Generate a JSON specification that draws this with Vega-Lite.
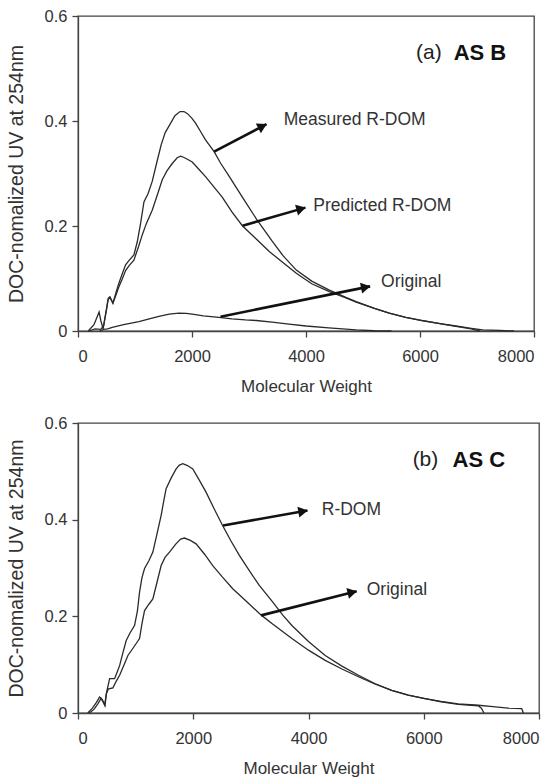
{
  "$schema": "https://vega.github.io/schema/vega-lite/v6.json",
  "padding": {"left": 5, "top": 7, "right": 0, "bottom": 2},
  "background": "white",
  "spacing": 18,
  "config": {
    "font": "Liberation Sans",
    "view": {"stroke": "#444", "strokeWidth": 1.3},
    "axis": {
      "labelFont": "Liberation Sans", "labelFontSize": 16.5, "labelColor": "#333",
      "titleFont": "Liberation Sans", "titleFontWeight": "normal", "titleColor": "#333",
      "domainColor": "#444", "domainWidth": 1.3, "tickColor": "#444", "tickWidth": 1.3, "tickSize": 6, "grid": false
    },
    "axisX": {"labelPadding": 11, "titleFontSize": 17, "titlePadding": 14},
    "axisY": {"labelPadding": 5, "titleFontSize": 19.5, "titlePadding": 18}
  },
  "datasets": {
    "topCurves": [
      {"series": "Measured R-DOM", "mw": 180, "uv": 0},
      {"series": "Measured R-DOM", "mw": 280, "uv": 0.012},
      {"series": "Measured R-DOM", "mw": 340, "uv": 0.028},
      {"series": "Measured R-DOM", "mw": 370, "uv": 0.036},
      {"series": "Measured R-DOM", "mw": 400, "uv": 0.02},
      {"series": "Measured R-DOM", "mw": 440, "uv": 0.004},
      {"series": "Measured R-DOM", "mw": 480, "uv": 0.03},
      {"series": "Measured R-DOM", "mw": 530, "uv": 0.062},
      {"series": "Measured R-DOM", "mw": 560, "uv": 0.065},
      {"series": "Measured R-DOM", "mw": 613, "uv": 0.053},
      {"series": "Measured R-DOM", "mw": 671, "uv": 0.075},
      {"series": "Measured R-DOM", "mw": 720, "uv": 0.092},
      {"series": "Measured R-DOM", "mw": 780, "uv": 0.11},
      {"series": "Measured R-DOM", "mw": 835, "uv": 0.126},
      {"series": "Measured R-DOM", "mw": 900, "uv": 0.135},
      {"series": "Measured R-DOM", "mw": 981, "uv": 0.145},
      {"series": "Measured R-DOM", "mw": 1040, "uv": 0.17},
      {"series": "Measured R-DOM", "mw": 1098, "uv": 0.205},
      {"series": "Measured R-DOM", "mw": 1157, "uv": 0.246},
      {"series": "Measured R-DOM", "mw": 1230, "uv": 0.262},
      {"series": "Measured R-DOM", "mw": 1302, "uv": 0.285},
      {"series": "Measured R-DOM", "mw": 1380, "uv": 0.32},
      {"series": "Measured R-DOM", "mw": 1460, "uv": 0.355},
      {"series": "Measured R-DOM", "mw": 1530, "uv": 0.378},
      {"series": "Measured R-DOM", "mw": 1606, "uv": 0.392},
      {"series": "Measured R-DOM", "mw": 1700, "uv": 0.41},
      {"series": "Measured R-DOM", "mw": 1790, "uv": 0.418},
      {"series": "Measured R-DOM", "mw": 1860, "uv": 0.418},
      {"series": "Measured R-DOM", "mw": 1920, "uv": 0.414},
      {"series": "Measured R-DOM", "mw": 2000, "uv": 0.405},
      {"series": "Measured R-DOM", "mw": 2062, "uv": 0.396},
      {"series": "Measured R-DOM", "mw": 2150, "uv": 0.38},
      {"series": "Measured R-DOM", "mw": 2237, "uv": 0.364},
      {"series": "Measured R-DOM", "mw": 2388, "uv": 0.3415},
      {"series": "Measured R-DOM", "mw": 2500, "uv": 0.32},
      {"series": "Measured R-DOM", "mw": 2650, "uv": 0.295},
      {"series": "Measured R-DOM", "mw": 2900, "uv": 0.252},
      {"series": "Measured R-DOM", "mw": 3150, "uv": 0.21},
      {"series": "Measured R-DOM", "mw": 3400, "uv": 0.172},
      {"series": "Measured R-DOM", "mw": 3600, "uv": 0.143},
      {"series": "Measured R-DOM", "mw": 3830, "uv": 0.116},
      {"series": "Measured R-DOM", "mw": 4100, "uv": 0.095},
      {"series": "Measured R-DOM", "mw": 4410, "uv": 0.078},
      {"series": "Measured R-DOM", "mw": 4700, "uv": 0.064},
      {"series": "Measured R-DOM", "mw": 4880, "uv": 0.056},
      {"series": "Measured R-DOM", "mw": 5200, "uv": 0.043},
      {"series": "Measured R-DOM", "mw": 5460, "uv": 0.034},
      {"series": "Measured R-DOM", "mw": 5750, "uv": 0.026},
      {"series": "Measured R-DOM", "mw": 6050, "uv": 0.0197},
      {"series": "Measured R-DOM", "mw": 6350, "uv": 0.014},
      {"series": "Measured R-DOM", "mw": 6630, "uv": 0.0095},
      {"series": "Measured R-DOM", "mw": 6900, "uv": 0.005},
      {"series": "Measured R-DOM", "mw": 7100, "uv": 0.002},
      {"series": "Measured R-DOM", "mw": 7400, "uv": 0.001},
      {"series": "Measured R-DOM", "mw": 7650, "uv": 0},
      {"series": "Predicted R-DOM", "mw": 190, "uv": 0},
      {"series": "Predicted R-DOM", "mw": 300, "uv": 0.004},
      {"series": "Predicted R-DOM", "mw": 400, "uv": 0.003},
      {"series": "Predicted R-DOM", "mw": 450, "uv": 0.01},
      {"series": "Predicted R-DOM", "mw": 500, "uv": 0.04},
      {"series": "Predicted R-DOM", "mw": 530, "uv": 0.06},
      {"series": "Predicted R-DOM", "mw": 560, "uv": 0.064},
      {"series": "Predicted R-DOM", "mw": 613, "uv": 0.053},
      {"series": "Predicted R-DOM", "mw": 671, "uv": 0.07},
      {"series": "Predicted R-DOM", "mw": 720, "uv": 0.085},
      {"series": "Predicted R-DOM", "mw": 780, "uv": 0.1},
      {"series": "Predicted R-DOM", "mw": 835, "uv": 0.115},
      {"series": "Predicted R-DOM", "mw": 900, "uv": 0.125},
      {"series": "Predicted R-DOM", "mw": 981, "uv": 0.135},
      {"series": "Predicted R-DOM", "mw": 1060, "uv": 0.16},
      {"series": "Predicted R-DOM", "mw": 1127, "uv": 0.183},
      {"series": "Predicted R-DOM", "mw": 1200, "uv": 0.205},
      {"series": "Predicted R-DOM", "mw": 1302, "uv": 0.23},
      {"series": "Predicted R-DOM", "mw": 1400, "uv": 0.262},
      {"series": "Predicted R-DOM", "mw": 1478, "uv": 0.288},
      {"series": "Predicted R-DOM", "mw": 1560, "uv": 0.305},
      {"series": "Predicted R-DOM", "mw": 1653, "uv": 0.319},
      {"series": "Predicted R-DOM", "mw": 1740, "uv": 0.33},
      {"series": "Predicted R-DOM", "mw": 1800, "uv": 0.333},
      {"series": "Predicted R-DOM", "mw": 1870, "uv": 0.33},
      {"series": "Predicted R-DOM", "mw": 2004, "uv": 0.322},
      {"series": "Predicted R-DOM", "mw": 2120, "uv": 0.308},
      {"series": "Predicted R-DOM", "mw": 2237, "uv": 0.294},
      {"series": "Predicted R-DOM", "mw": 2380, "uv": 0.275},
      {"series": "Predicted R-DOM", "mw": 2530, "uv": 0.255},
      {"series": "Predicted R-DOM", "mw": 2700, "uv": 0.227},
      {"series": "Predicted R-DOM", "mw": 2887, "uv": 0.2},
      {"series": "Predicted R-DOM", "mw": 3100, "uv": 0.178},
      {"series": "Predicted R-DOM", "mw": 3360, "uv": 0.151},
      {"series": "Predicted R-DOM", "mw": 3600, "uv": 0.13},
      {"series": "Predicted R-DOM", "mw": 3830, "uv": 0.11},
      {"series": "Predicted R-DOM", "mw": 4100, "uv": 0.09},
      {"series": "Predicted R-DOM", "mw": 4410, "uv": 0.075},
      {"series": "Predicted R-DOM", "mw": 4700, "uv": 0.063},
      {"series": "Predicted R-DOM", "mw": 4880, "uv": 0.055},
      {"series": "Predicted R-DOM", "mw": 5200, "uv": 0.043},
      {"series": "Predicted R-DOM", "mw": 5460, "uv": 0.034},
      {"series": "Predicted R-DOM", "mw": 5750, "uv": 0.026},
      {"series": "Predicted R-DOM", "mw": 6050, "uv": 0.0195},
      {"series": "Predicted R-DOM", "mw": 6350, "uv": 0.014},
      {"series": "Predicted R-DOM", "mw": 6630, "uv": 0.009},
      {"series": "Predicted R-DOM", "mw": 6900, "uv": 0.004},
      {"series": "Predicted R-DOM", "mw": 7050, "uv": 0},
      {"series": "Original", "mw": 380, "uv": 0},
      {"series": "Original", "mw": 450, "uv": 0.003},
      {"series": "Original", "mw": 520, "uv": 0.004},
      {"series": "Original", "mw": 601, "uv": 0.007},
      {"series": "Original", "mw": 800, "uv": 0.012},
      {"series": "Original", "mw": 1069, "uv": 0.018},
      {"series": "Original", "mw": 1250, "uv": 0.023},
      {"series": "Original", "mw": 1420, "uv": 0.028},
      {"series": "Original", "mw": 1600, "uv": 0.032},
      {"series": "Original", "mw": 1770, "uv": 0.034},
      {"series": "Original", "mw": 1900, "uv": 0.0335},
      {"series": "Original", "mw": 2004, "uv": 0.032},
      {"series": "Original", "mw": 2200, "uv": 0.029},
      {"series": "Original", "mw": 2472, "uv": 0.026},
      {"series": "Original", "mw": 2700, "uv": 0.023},
      {"series": "Original", "mw": 2938, "uv": 0.021},
      {"series": "Original", "mw": 3126, "uv": 0.02},
      {"series": "Original", "mw": 3406, "uv": 0.017},
      {"series": "Original", "mw": 3700, "uv": 0.013},
      {"series": "Original", "mw": 4002, "uv": 0.0095},
      {"series": "Original", "mw": 4400, "uv": 0.006},
      {"series": "Original", "mw": 4879, "uv": 0.002},
      {"series": "Original", "mw": 5200, "uv": 0.0005},
      {"series": "Original", "mw": 5500, "uv": 0}
    ],
    "topArrows": [
      {"label": "Measured R-DOM", "mw": 2388, "uv": 0.3415, "mw2": 3308, "uv2": 0.394},
      {"label": "Predicted R-DOM", "mw": 2887, "uv": 0.2006, "mw2": 3990, "uv2": 0.235},
      {"label": "Original", "mw": 2500, "uv": 0.0272, "mw2": 5125, "uv2": 0.085}
    ],
    "topLabels": [
      {"label": "Measured R-DOM", "mw": 3608, "uv": 0.402},
      {"label": "Predicted R-DOM", "mw": 4127, "uv": 0.238},
      {"label": "Original", "mw": 5317, "uv": 0.094}
    ],
    "botCurves": [
      {"series": "R-DOM", "mw": 170, "uv": 0},
      {"series": "R-DOM", "mw": 250, "uv": 0.01},
      {"series": "R-DOM", "mw": 320, "uv": 0.022},
      {"series": "R-DOM", "mw": 375, "uv": 0.033},
      {"series": "R-DOM", "mw": 420, "uv": 0.028},
      {"series": "R-DOM", "mw": 462, "uv": 0.017},
      {"series": "R-DOM", "mw": 500, "uv": 0.045},
      {"series": "R-DOM", "mw": 549, "uv": 0.071},
      {"series": "R-DOM", "mw": 635, "uv": 0.071},
      {"series": "R-DOM", "mw": 680, "uv": 0.085},
      {"series": "R-DOM", "mw": 722, "uv": 0.098},
      {"series": "R-DOM", "mw": 780, "uv": 0.125},
      {"series": "R-DOM", "mw": 837, "uv": 0.15},
      {"series": "R-DOM", "mw": 900, "uv": 0.165},
      {"series": "R-DOM", "mw": 981, "uv": 0.181},
      {"series": "R-DOM", "mw": 1030, "uv": 0.21},
      {"series": "R-DOM", "mw": 1068, "uv": 0.25},
      {"series": "R-DOM", "mw": 1110, "uv": 0.28},
      {"series": "R-DOM", "mw": 1155, "uv": 0.299},
      {"series": "R-DOM", "mw": 1230, "uv": 0.315},
      {"series": "R-DOM", "mw": 1299, "uv": 0.333},
      {"series": "R-DOM", "mw": 1370, "uv": 0.37},
      {"series": "R-DOM", "mw": 1443, "uv": 0.409},
      {"series": "R-DOM", "mw": 1490, "uv": 0.44},
      {"series": "R-DOM", "mw": 1529, "uv": 0.464},
      {"series": "R-DOM", "mw": 1620, "uv": 0.487},
      {"series": "R-DOM", "mw": 1703, "uv": 0.505},
      {"series": "R-DOM", "mw": 1760, "uv": 0.513},
      {"series": "R-DOM", "mw": 1819, "uv": 0.516},
      {"series": "R-DOM", "mw": 1900, "uv": 0.512},
      {"series": "R-DOM", "mw": 1992, "uv": 0.505},
      {"series": "R-DOM", "mw": 2100, "uv": 0.483},
      {"series": "R-DOM", "mw": 2222, "uv": 0.457},
      {"series": "R-DOM", "mw": 2360, "uv": 0.423},
      {"series": "R-DOM", "mw": 2500, "uv": 0.39},
      {"series": "R-DOM", "mw": 2650, "uv": 0.357},
      {"series": "R-DOM", "mw": 2800, "uv": 0.326},
      {"series": "R-DOM", "mw": 2970, "uv": 0.295},
      {"series": "R-DOM", "mw": 3146, "uv": 0.264},
      {"series": "R-DOM", "mw": 3377, "uv": 0.23},
      {"series": "R-DOM", "mw": 3550, "uv": 0.203},
      {"series": "R-DOM", "mw": 3712, "uv": 0.181},
      {"series": "R-DOM", "mw": 4000, "uv": 0.148},
      {"series": "R-DOM", "mw": 4290, "uv": 0.119},
      {"series": "R-DOM", "mw": 4580, "uv": 0.097},
      {"series": "R-DOM", "mw": 4867, "uv": 0.078},
      {"series": "R-DOM", "mw": 5150, "uv": 0.061},
      {"series": "R-DOM", "mw": 5444, "uv": 0.047},
      {"series": "R-DOM", "mw": 5730, "uv": 0.037},
      {"series": "R-DOM", "mw": 6022, "uv": 0.0296},
      {"series": "R-DOM", "mw": 6300, "uv": 0.023},
      {"series": "R-DOM", "mw": 6599, "uv": 0.018},
      {"series": "R-DOM", "mw": 6945, "uv": 0.015},
      {"series": "R-DOM", "mw": 7000, "uv": 0.01},
      {"series": "R-DOM", "mw": 7045, "uv": 0},
      {"series": "Original", "mw": 200, "uv": 0},
      {"series": "Original", "mw": 280, "uv": 0.008},
      {"series": "Original", "mw": 350, "uv": 0.02},
      {"series": "Original", "mw": 400, "uv": 0.03},
      {"series": "Original", "mw": 440, "uv": 0.022},
      {"series": "Original", "mw": 470, "uv": 0.015},
      {"series": "Original", "mw": 491, "uv": 0.04},
      {"series": "Original", "mw": 530, "uv": 0.05},
      {"series": "Original", "mw": 606, "uv": 0.052},
      {"series": "Original", "mw": 660, "uv": 0.065},
      {"series": "Original", "mw": 722, "uv": 0.078},
      {"series": "Original", "mw": 800, "uv": 0.1},
      {"series": "Original", "mw": 866, "uv": 0.119},
      {"series": "Original", "mw": 960, "uv": 0.135},
      {"series": "Original", "mw": 1068, "uv": 0.154},
      {"series": "Original", "mw": 1110, "uv": 0.185},
      {"series": "Original", "mw": 1155, "uv": 0.212},
      {"series": "Original", "mw": 1230, "uv": 0.225},
      {"series": "Original", "mw": 1299, "uv": 0.236},
      {"series": "Original", "mw": 1370, "uv": 0.27},
      {"series": "Original", "mw": 1443, "uv": 0.305},
      {"series": "Original", "mw": 1510, "uv": 0.322},
      {"series": "Original", "mw": 1588, "uv": 0.333},
      {"series": "Original", "mw": 1700, "uv": 0.35},
      {"series": "Original", "mw": 1780, "uv": 0.36},
      {"series": "Original", "mw": 1848, "uv": 0.362},
      {"series": "Original", "mw": 1950, "uv": 0.357},
      {"series": "Original", "mw": 2049, "uv": 0.35},
      {"series": "Original", "mw": 2200, "uv": 0.328},
      {"series": "Original", "mw": 2338, "uv": 0.305},
      {"series": "Original", "mw": 2500, "uv": 0.282},
      {"series": "Original", "mw": 2685, "uv": 0.257},
      {"series": "Original", "mw": 2930, "uv": 0.23},
      {"series": "Original", "mw": 3175, "uv": 0.203},
      {"series": "Original", "mw": 3377, "uv": 0.184},
      {"series": "Original", "mw": 3712, "uv": 0.154},
      {"series": "Original", "mw": 4000, "uv": 0.13},
      {"series": "Original", "mw": 4290, "uv": 0.109},
      {"series": "Original", "mw": 4580, "uv": 0.091},
      {"series": "Original", "mw": 4867, "uv": 0.075},
      {"series": "Original", "mw": 5150, "uv": 0.06},
      {"series": "Original", "mw": 5444, "uv": 0.047},
      {"series": "Original", "mw": 5730, "uv": 0.037},
      {"series": "Original", "mw": 6022, "uv": 0.0296},
      {"series": "Original", "mw": 6300, "uv": 0.024},
      {"series": "Original", "mw": 6599, "uv": 0.019},
      {"series": "Original", "mw": 6945, "uv": 0.016},
      {"series": "Original", "mw": 7200, "uv": 0.013},
      {"series": "Original", "mw": 7465, "uv": 0.01},
      {"series": "Original", "mw": 7700, "uv": 0.009},
      {"series": "Original", "mw": 7730, "uv": 0}
    ],
    "botArrows": [
      {"label": "R-DOM", "mw": 2517, "uv": 0.388, "mw2": 3982, "uv2": 0.419},
      {"label": "Original", "mw": 3178, "uv": 0.202, "mw2": 4836, "uv2": 0.252}
    ],
    "botLabels": [
      {"label": "R-DOM", "mw": 4230, "uv": 0.419},
      {"label": "Original", "mw": 5011, "uv": 0.2537}
    ]
  },
  "vconcat": [
    {
      "width": 456,
      "height": 315,
      "encoding": {
        "x": {"field": "mw", "type": "quantitative", "title": "Molecular Weight",
              "scale": {"domain": [0, 8000], "nice": false},
              "axis": {"values": [0, 2000, 4000, 6000, 8000], "format": "d"}},
        "y": {"field": "uv", "type": "quantitative", "title": "DOC-nomalized UV at 254nm",
              "scale": {"domain": [0, 0.6], "nice": false},
              "axis": {"values": [0, 0.2, 0.4, 0.6], "format": "~g"}}
      },
      "layer": [
        {"data": {"name": "topCurves"}, "mark": {"type": "line", "color": "#2a2a2a", "strokeWidth": 1.3},
         "encoding": {"detail": {"field": "series"}}},
        {"data": {"name": "topArrows"}, "mark": {"type": "rule", "color": "#111", "strokeWidth": 2.6},
         "encoding": {"x2": {"field": "mw2"}, "y2": {"field": "uv2"}}},
        {"data": {"name": "topArrows"}, "transform": [{"filter": "datum.label == 'Measured R-DOM'"}],
         "mark": {"type": "point", "shape": "triangle-right", "filled": true, "color": "#111", "opacity": 1, "size": 120, "angle": 332.4, "xOffset": -4, "yOffset": 2.1},
         "encoding": {"x": {"field": "mw2", "type": "quantitative"}, "y": {"field": "uv2", "type": "quantitative"}}},
        {"data": {"name": "topArrows"}, "transform": [{"filter": "datum.label == 'Predicted R-DOM'"}],
         "mark": {"type": "point", "shape": "triangle-right", "filled": true, "color": "#111", "opacity": 1, "size": 120, "angle": 344.3, "xOffset": -4.3, "yOffset": 1.2},
         "encoding": {"x": {"field": "mw2", "type": "quantitative"}, "y": {"field": "uv2", "type": "quantitative"}}},
        {"data": {"name": "topArrows"}, "transform": [{"filter": "datum.label == 'Original'"}],
         "mark": {"type": "point", "shape": "triangle-right", "filled": true, "color": "#111", "opacity": 1, "size": 120, "angle": 348.6, "xOffset": -4.4, "yOffset": 0.9},
         "encoding": {"x": {"field": "mw2", "type": "quantitative"}, "y": {"field": "uv2", "type": "quantitative"}}},
        {"data": {"name": "topLabels"}, "mark": {"type": "text", "align": "left", "baseline": "middle", "fontSize": 17.5, "color": "#333"},
         "encoding": {"text": {"field": "label"}}},
        {"data": {"values": [{"mw": 5931, "uv": 0.529, "t": "(a)"}]}, "mark": {"type": "text", "align": "left", "baseline": "middle", "fontSize": 21, "color": "#222"},
         "encoding": {"text": {"field": "t"}}},
        {"data": {"values": [{"mw": 6591, "uv": 0.529, "t": "AS B"}]}, "mark": {"type": "text", "align": "left", "baseline": "middle", "fontSize": 22, "fontWeight": "bold", "color": "#111"},
         "encoding": {"text": {"field": "t"}}}
      ]
    },
    {
      "width": 461,
      "height": 290,
      "encoding": {
        "x": {"field": "mw", "type": "quantitative", "title": "Molecular Weight",
              "scale": {"domain": [0, 8000], "nice": false},
              "axis": {"values": [0, 2000, 4000, 6000, 8000], "format": "d"}},
        "y": {"field": "uv", "type": "quantitative", "title": "DOC-nomalized UV at 254nm",
              "scale": {"domain": [0, 0.6], "nice": false},
              "axis": {"values": [0, 0.2, 0.4, 0.6], "format": "~g"}}
      },
      "layer": [
        {"data": {"name": "botCurves"}, "mark": {"type": "line", "color": "#2a2a2a", "strokeWidth": 1.3},
         "encoding": {"detail": {"field": "series"}}},
        {"data": {"name": "botArrows"}, "mark": {"type": "rule", "color": "#111", "strokeWidth": 2.6},
         "encoding": {"x2": {"field": "mw2"}, "y2": {"field": "uv2"}}},
        {"data": {"name": "botArrows"}, "transform": [{"filter": "datum.label == 'R-DOM'"}],
         "mark": {"type": "point", "shape": "triangle-right", "filled": true, "color": "#111", "opacity": 1, "size": 120, "angle": 349.8, "xOffset": -4.4, "yOffset": 0.8},
         "encoding": {"x": {"field": "mw2", "type": "quantitative"}, "y": {"field": "uv2", "type": "quantitative"}}},
        {"data": {"name": "botArrows"}, "transform": [{"filter": "datum.label == 'Original'"}],
         "mark": {"type": "point", "shape": "triangle-right", "filled": true, "color": "#111", "opacity": 1, "size": 120, "angle": 346.2, "xOffset": -4.4, "yOffset": 1.1},
         "encoding": {"x": {"field": "mw2", "type": "quantitative"}, "y": {"field": "uv2", "type": "quantitative"}}},
        {"data": {"name": "botLabels"}, "mark": {"type": "text", "align": "left", "baseline": "middle", "fontSize": 17.5, "color": "#333"},
         "encoding": {"text": {"field": "label"}}},
        {"data": {"values": [{"mw": 5807, "uv": 0.5227, "t": "(b)"}]}, "mark": {"type": "text", "align": "left", "baseline": "middle", "fontSize": 21, "color": "#222"},
         "encoding": {"text": {"field": "t"}}},
        {"data": {"values": [{"mw": 6500, "uv": 0.5227, "t": "AS C"}]}, "mark": {"type": "text", "align": "left", "baseline": "middle", "fontSize": 22, "fontWeight": "bold", "color": "#111"},
         "encoding": {"text": {"field": "t"}}}
      ]
    }
  ]
}
